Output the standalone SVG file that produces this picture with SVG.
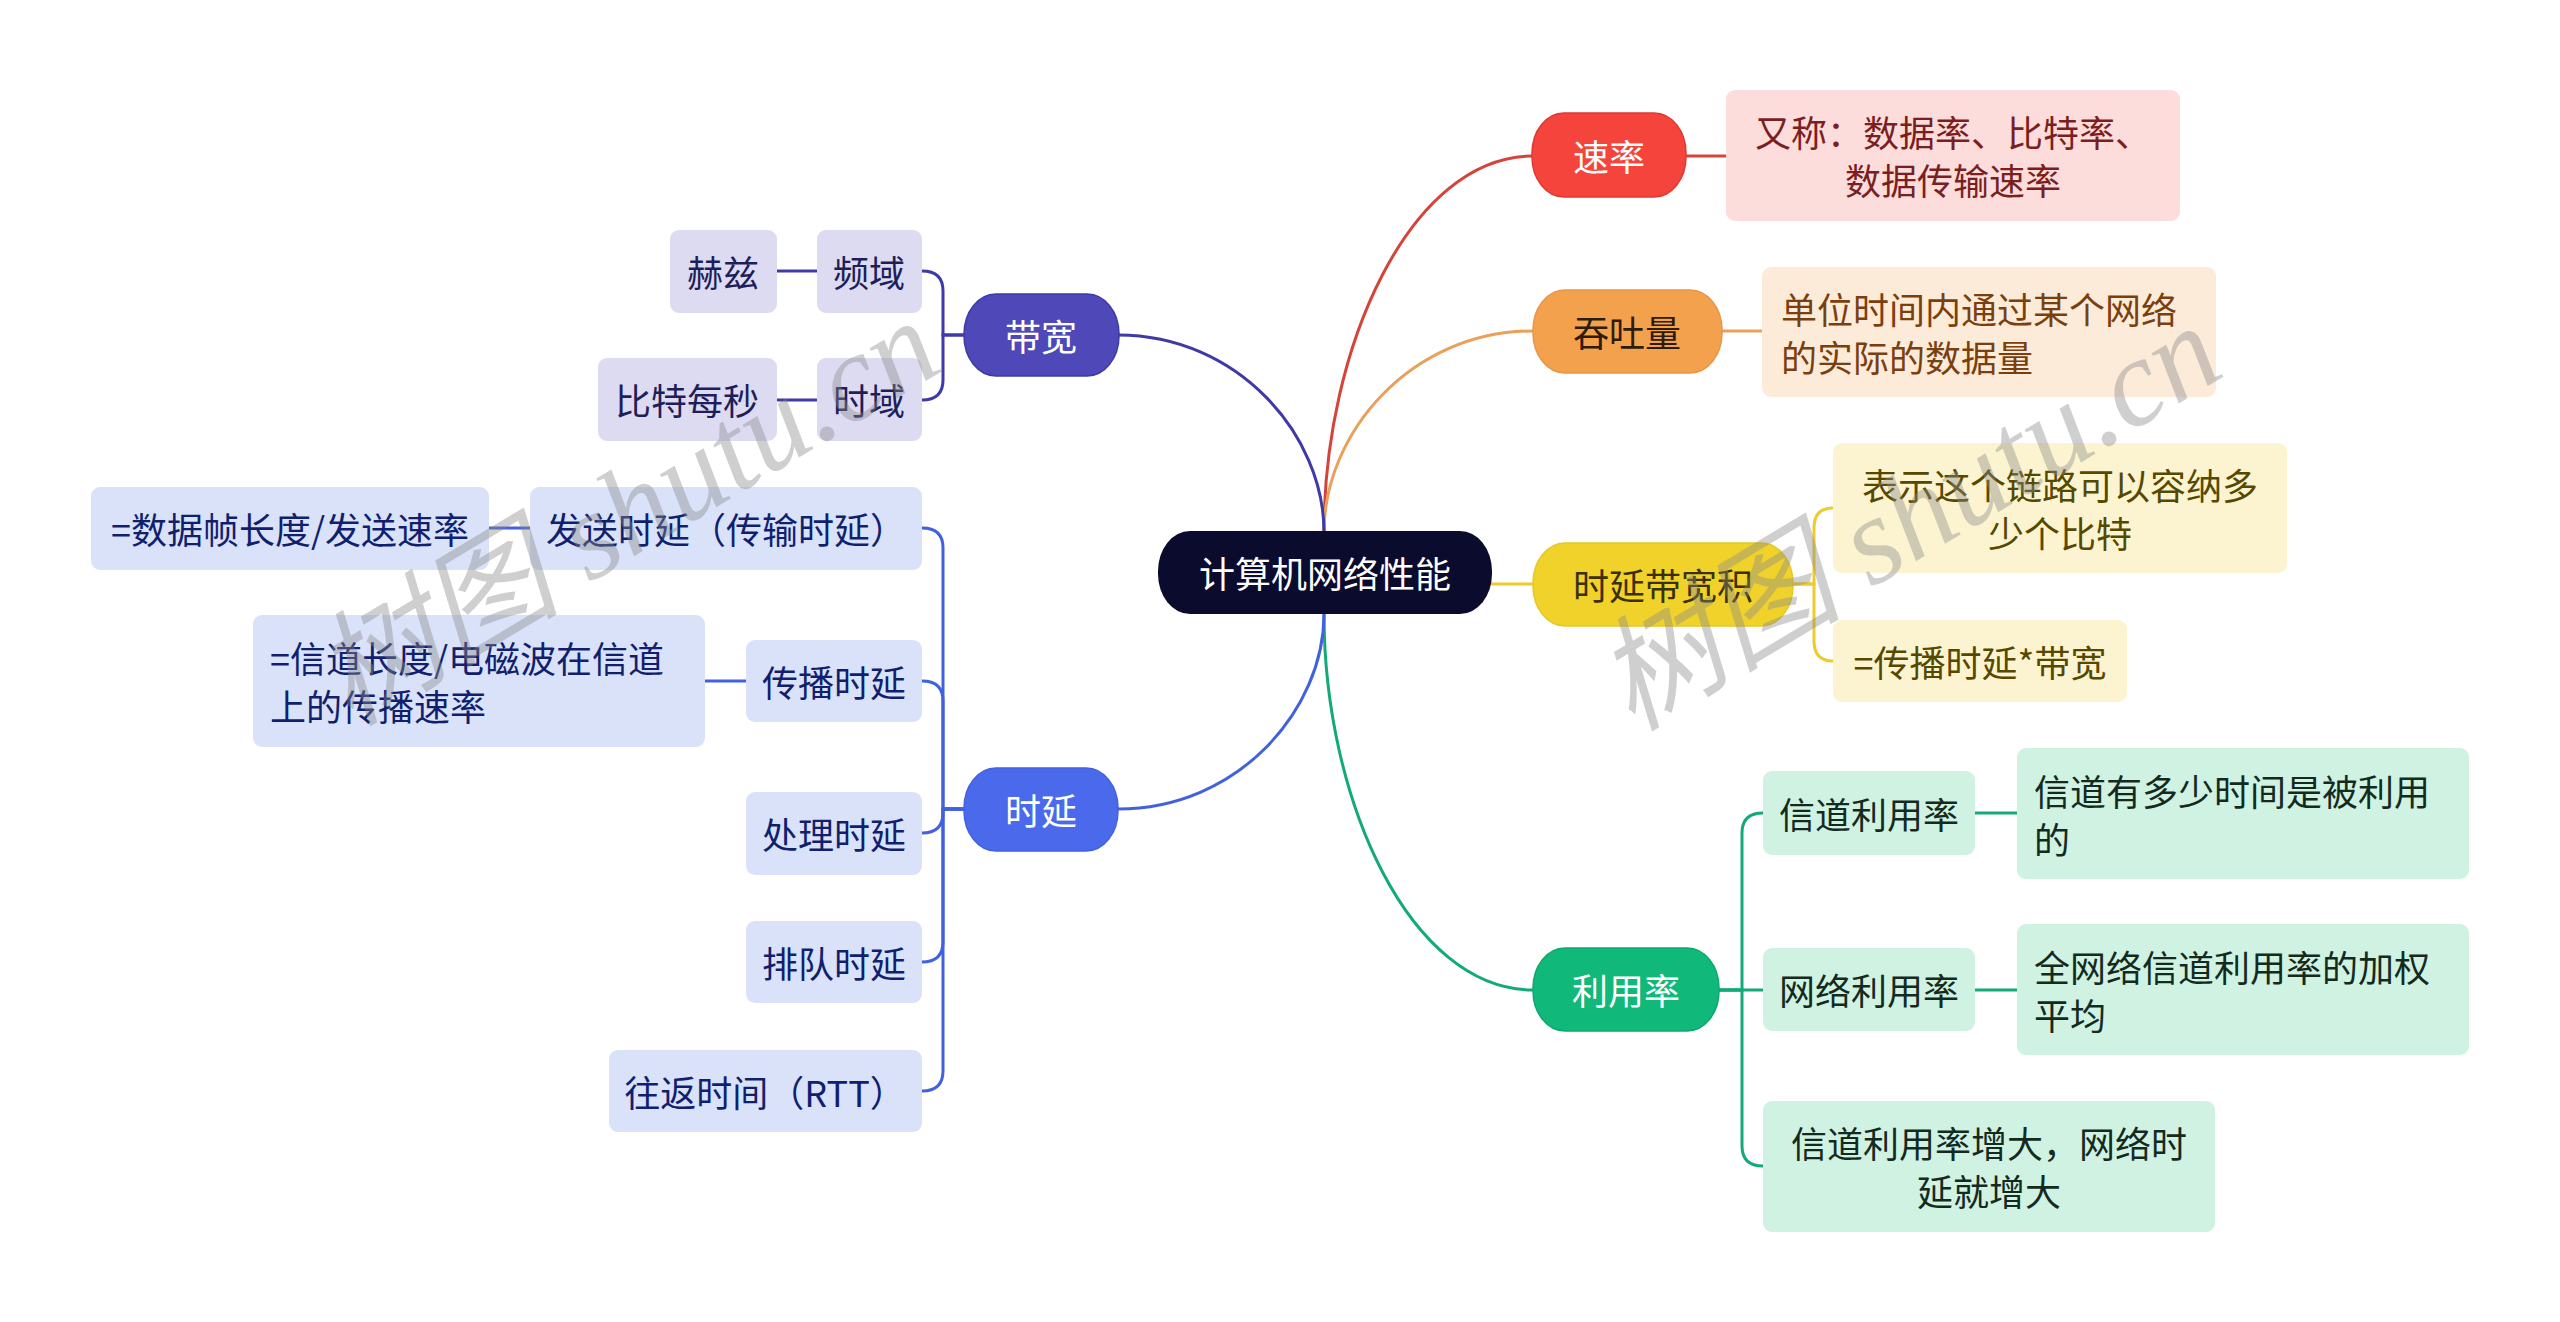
<svg xmlns="http://www.w3.org/2000/svg" width="2560" height="1322" viewBox="0 0 2560 1322">
<style>
text{font-family:"Noto Sans CJK SC","Noto Sans",sans-serif;font-size:36px;dominant-baseline:central}
.c{text-anchor:middle}
.l{text-anchor:start}
.ln{fill:none;stroke-width:3;stroke-linecap:round}
.wm{font-family:"Liberation Serif","Noto Sans CJK SC",serif;font-style:italic;font-size:124px;fill:#8a8a8a;opacity:0.4;dominant-baseline:alphabetic;text-anchor:middle}
</style>
<rect width="2560" height="1322" fill="#ffffff"/>
<g id="connectors">
  <path class="ln" stroke="#D4443B" d="M1324 532 C1324 348 1410 156 1533 156"/>
  <path class="ln" stroke="#D4443B" d="M1686 156 H1726"/>
  <path class="ln" stroke="#E8A05A" d="M1324 532 C1324 434 1410 331 1533 331"/>
  <path class="ln" stroke="#E8A05A" d="M1721 331 H1762"/>
  <path class="ln" stroke="#EBCB2E" d="M1491 584 H1533"/>
  <path class="ln" stroke="#EBCB2E" d="M1792 584 H1814 V528 Q1814 508 1833 508"/>
  <path class="ln" stroke="#EBCB2E" d="M1792 584 H1814 V641 Q1814 661 1833 661"/>
  <path class="ln" stroke="#14A978" d="M1324 614 C1324 800 1410 990 1533 990"/>
  <path class="ln" stroke="#14A978" d="M1719 990 H1742 V833 Q1742 813 1763 813"/>
  <path class="ln" stroke="#14A978" d="M1719 990 H1763"/>
  <path class="ln" stroke="#14A978" d="M1719 990 H1742 V1146 Q1742 1166 1763 1166"/>
  <path class="ln" stroke="#14A978" d="M1975 813 H2017"/>
  <path class="ln" stroke="#14A978" d="M1975 990 H2017"/>
  <path class="ln" stroke="#3F3AA5" d="M1324 532 C1324 435 1238 335 1118 335"/>
  <path class="ln" stroke="#3F3AA5" d="M964 335 H943 V291 Q943 271 922 271"/>
  <path class="ln" stroke="#3F3AA5" d="M964 335 H943 V380 Q943 400 922 400"/>
  <path class="ln" stroke="#3F3AA5" d="M817 271 H777"/>
  <path class="ln" stroke="#3F3AA5" d="M817 400 H777"/>
  <path class="ln" stroke="#4262DD" d="M1324 614 C1324 710 1238 809 1118 809"/>
  <path class="ln" stroke="#4262DD" d="M964 809 H943 V548 Q943 528 922 528"/>
  <path class="ln" stroke="#4262DD" d="M964 809 H943 V701 Q943 681 922 681"/>
  <path class="ln" stroke="#4262DD" d="M964 809 H943 V813 Q943 833 922 833"/>
  <path class="ln" stroke="#4262DD" d="M964 809 H943 V942 Q943 962 922 962"/>
  <path class="ln" stroke="#4262DD" d="M964 809 H943 V1071 Q943 1091 922 1091"/>
  <path class="ln" stroke="#4262DD" d="M530 528 H489"/>
  <path class="ln" stroke="#4262DD" d="M746 681 H705"/>
</g>
<g id="root">
  <rect x="1158" y="531" width="334" height="83" rx="32" ry="40" fill="#0B0B2E"/>
  <text class="c" x="1325" y="572" fill="#ffffff">计算机网络性能</text>
</g>
<g id="n-sulv">
  <rect x="1532" y="113" width="154" height="84" rx="32" ry="40" fill="#F5443C" stroke="#DD3A33" stroke-width="1.5"/>
  <text class="c" x="1609" y="155" fill="#ffffff">速率</text>
</g>
<g id="n-sulv-d">
  <rect x="1726" y="90" width="454" height="131" rx="9" fill="#FDDCDC"/>
  <text class="c" x="1953" y="131" fill="#7A1F1F">又称：数据率、比特率、</text>
  <text class="c" x="1953" y="179" fill="#7A1F1F">数据传输速率</text>
</g>
<g id="n-tuntu">
  <rect x="1533" y="290" width="189" height="83" rx="32" ry="40" fill="#F4A14E" stroke="#E8954A" stroke-width="1.5"/>
  <text class="c" x="1627" y="331" fill="#2E1C08">吞吐量</text>
</g>
<g id="n-tuntu-d">
  <rect x="1762" y="267" width="454" height="130" rx="9" fill="#FDEBDA"/>
  <text class="l" x="1781" y="308" fill="#7B3F0E">单位时间内通过某个网络</text>
  <text class="l" x="1781" y="356" fill="#7B3F0E">的实际的数据量</text>
</g>
<g id="n-sydk">
  <rect x="1533" y="543" width="260" height="83" rx="32" ry="40" fill="#F0D22A" stroke="#E6C825" stroke-width="1.5"/>
  <text class="c" x="1663" y="584" fill="#3A3000">时延带宽积</text>
</g>
<g id="n-sydk-1">
  <rect x="1833" y="443" width="454" height="130" rx="9" fill="#FCF4D0"/>
  <text class="c" x="2060" y="484" fill="#574800">表示这个链路可以容纳多</text>
  <text class="c" x="2060" y="532" fill="#574800">少个比特</text>
</g>
<g id="n-sydk-2">
  <rect x="1833" y="620" width="294" height="82" rx="9" fill="#FCF4D0"/>
  <text class="c" x="1980" y="661" fill="#574800">=传播时延*带宽</text>
</g>
<g id="n-lyl">
  <rect x="1533" y="948" width="186" height="83" rx="32" ry="40" fill="#10B87A" stroke="#0DA86F" stroke-width="1.5"/>
  <text class="c" x="1626" y="989" fill="#ffffff">利用率</text>
</g>
<g id="n-xdlyl">
  <rect x="1763" y="771" width="212" height="84" rx="9" fill="#CFF2E2"/>
  <text class="c" x="1869" y="813" fill="#142A1E">信道利用率</text>
</g>
<g id="n-xdlyl-d">
  <rect x="2017" y="748" width="452" height="131" rx="9" fill="#CFF2E2"/>
  <text class="l" x="2034" y="790" fill="#142A1E">信道有多少时间是被利用</text>
  <text class="l" x="2034" y="838" fill="#142A1E">的</text>
</g>
<g id="n-wllyl">
  <rect x="1763" y="948" width="212" height="83" rx="9" fill="#CFF2E2"/>
  <text class="c" x="1869" y="989" fill="#142A1E">网络利用率</text>
</g>
<g id="n-wllyl-d">
  <rect x="2017" y="924" width="452" height="131" rx="9" fill="#CFF2E2"/>
  <text class="l" x="2034" y="966" fill="#142A1E">全网络信道利用率的加权</text>
  <text class="l" x="2034" y="1014" fill="#142A1E">平均</text>
</g>
<g id="n-zd">
  <rect x="1763" y="1101" width="452" height="131" rx="9" fill="#CFF2E2"/>
  <text class="c" x="1989" y="1142" fill="#142A1E">信道利用率增大，网络时</text>
  <text class="c" x="1989" y="1190" fill="#142A1E">延就增大</text>
</g>
<g id="n-dk">
  <rect x="964" y="294" width="155" height="82" rx="32" ry="40" fill="#4E48B8" stroke="#3F3AA5" stroke-width="1.5"/>
  <text class="c" x="1041" y="335" fill="#ffffff">带宽</text>
</g>
<g id="n-py">
  <rect x="817" y="230" width="105" height="83" rx="9" fill="#DCDBF2"/>
  <text class="c" x="869" y="271" fill="#1E1E5A">频域</text>
</g>
<g id="n-hz">
  <rect x="670" y="230" width="107" height="83" rx="9" fill="#DCDBF2"/>
  <text class="c" x="723" y="271" fill="#1E1E5A">赫兹</text>
</g>
<g id="n-sy">
  <rect x="817" y="358" width="105" height="83" rx="9" fill="#DCDBF2"/>
  <text class="c" x="869" y="399" fill="#1E1E5A">时域</text>
</g>
<g id="n-btms">
  <rect x="598" y="358" width="179" height="83" rx="9" fill="#DCDBF2"/>
  <text class="c" x="687" y="399" fill="#1E1E5A">比特每秒</text>
</g>
<g id="n-sy2">
  <rect x="964" y="768" width="154" height="83" rx="32" ry="40" fill="#4A6AEB" stroke="#4262DD" stroke-width="1.5"/>
  <text class="c" x="1041" y="809" fill="#ffffff">时延</text>
</g>
<g id="n-fssy">
  <rect x="530" y="487" width="392" height="83" rx="9" fill="#DAE2FA"/>
  <text class="c" x="726" y="528" fill="#101F6E">发送时延（传输时延）</text>
</g>
<g id="n-fssy-d">
  <rect x="91" y="487" width="398" height="83" rx="9" fill="#DAE2FA"/>
  <text class="c" x="290" y="528" fill="#101F6E">=数据帧长度/发送速率</text>
</g>
<g id="n-cbsy">
  <rect x="746" y="640" width="176" height="82" rx="9" fill="#DAE2FA"/>
  <text class="c" x="834" y="681" fill="#101F6E">传播时延</text>
</g>
<g id="n-cbsy-d">
  <rect x="253" y="615" width="452" height="132" rx="9" fill="#DAE2FA"/>
  <text class="l" x="270" y="657" fill="#101F6E">=信道长度/电磁波在信道</text>
  <text class="l" x="270" y="705" fill="#101F6E">上的传播速率</text>
</g>
<g id="n-clsy">
  <rect x="746" y="792" width="176" height="83" rx="9" fill="#DAE2FA"/>
  <text class="c" x="834" y="833" fill="#101F6E">处理时延</text>
</g>
<g id="n-pdsy">
  <rect x="746" y="921" width="176" height="82" rx="9" fill="#DAE2FA"/>
  <text class="c" x="834" y="962" fill="#101F6E">排队时延</text>
</g>
<g id="n-rtt">
  <rect x="609" y="1050" width="313" height="82" rx="9" fill="#DAE2FA"/>
  <text class="c" x="765" y="1091" fill="#101F6E">往返时间（RTT）</text>
</g>
<g id="watermarks">
  <text class="wm" transform="translate(648 548) rotate(-31)">树图 shutu.cn</text>
  <text class="wm" transform="translate(1930 553) rotate(-31)">树图 shutu.cn</text>
</g>
</svg>
